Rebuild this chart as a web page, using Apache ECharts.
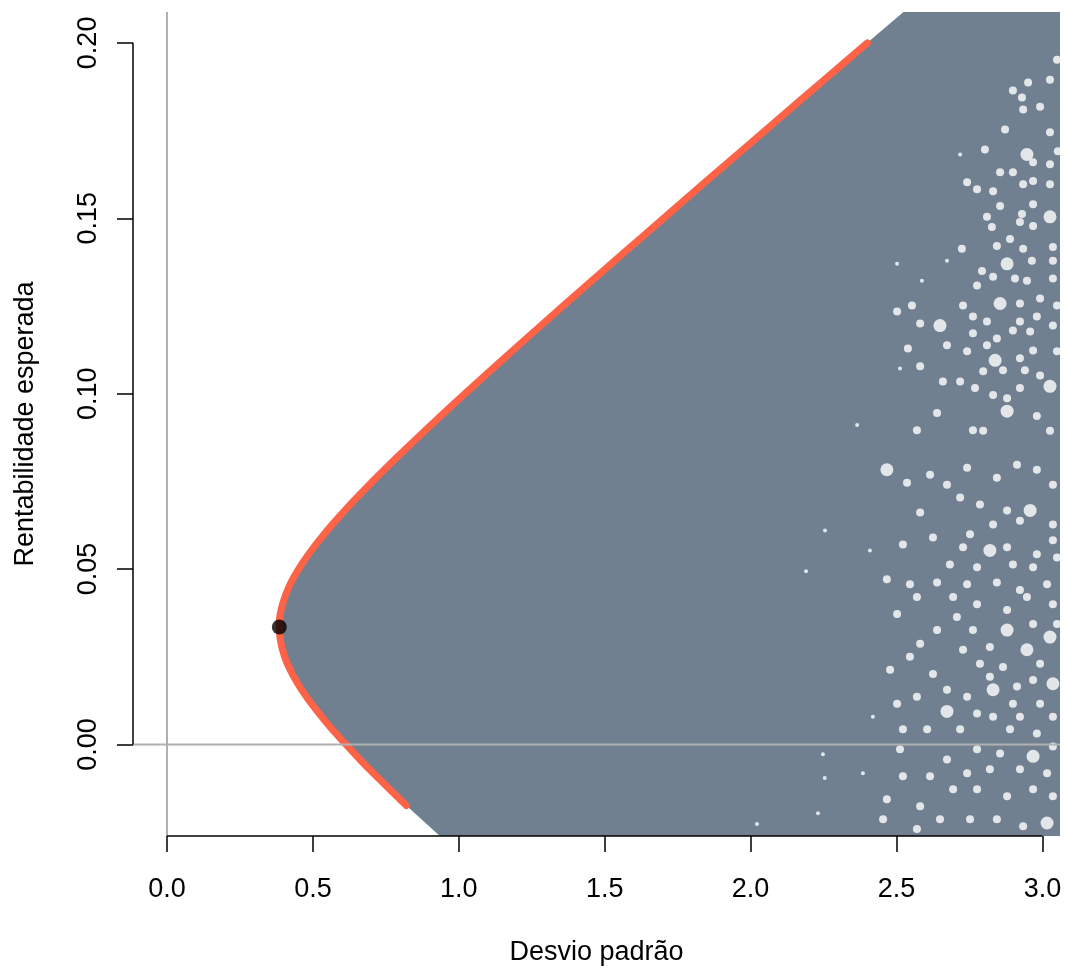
<!DOCTYPE html>
<html>
<head>
<meta charset="utf-8">
<script src="https://cdn.jsdelivr.net/npm/echarts@6/dist/echarts.min.js"></script>
<style>
html,body{margin:0;padding:0;background:#fff;width:1065px;height:971px;overflow:hidden;}
#c{position:absolute;left:0;top:0;width:1065px;height:971px;}
</style>
</head>
<body>
<div id="c"></div>
<script>
// ---- data ----
const xTicks = [0, 0.5, 1.0, 1.5, 2.0, 2.5, 3.0];
const yTicks = [0, 0.05, 0.10, 0.15, 0.20];
const xRange = [-0.1165, 3.0603];
const yRange = [-0.0261, 0.2088];

// efficient frontier (expected return mu, std dev sigma)
const frontierMu = [-0.0174, -0.015, -0.01, -0.005, 0, 0.005, 0.01, 0.015, 0.02, 0.025, 0.03, 0.035, 0.04, 0.045, 0.05, 0.055, 0.06, 0.065, 0.07, 0.08, 0.09, 0.10, 0.11, 0.12, 0.13, 0.14, 0.15, 0.16, 0.17, 0.18, 0.19, 0.20];
const frontierSigma = [0.820, 0.790, 0.729, 0.669, 0.613, 0.559, 0.510, 0.466, 0.430, 0.403, 0.388, 0.385, 0.396, 0.418, 0.451, 0.492, 0.539, 0.591, 0.646, 0.765, 0.891, 1.021, 1.154, 1.289, 1.426, 1.563, 1.702, 1.840, 1.980, 2.119, 2.260, 2.400];

// minimum-variance portfolio
const minVar = [0.385, 0.0335];

// edge of the simulated-portfolio cloud beyond the frontier ends
const cloudBottomEdge = [0.935, -0.0261];
const cloudTopEdge = [2.524, 0.2088];

// uncovered gaps in the cloud (sigma, mu)
const holesLarge = [[2.947,0.1682],[3.026,0.1504],[2.879,0.1370],[2.855,0.1257],[2.649,0.1194],[2.838,0.1095],[3.026,0.1021],[2.879,0.0950],[2.467,0.0783],[2.958,0.0667],[2.820,0.0553],[2.879,0.0326],[2.947,0.0270],[2.831,0.0156],[2.673,0.0094],[3.026,0.0306],[3.036,0.0173],[2.968,-0.0034],[3.016,-0.0224]];
const holesMedium = [
[3.050,0.1952],[2.951,0.1887],[2.899,0.1864],[2.930,0.1844],[3.026,0.1895],[2.992,0.1818],[3.026,0.1745],[2.934,0.1810],[2.872,0.1753],[2.968,0.1660],[3.026,0.1654],[3.053,0.1691],[2.742,0.1603],[2.776,0.1583],[2.831,0.1577],[2.934,0.1597],[2.968,0.1606],[3.026,0.1597],[2.899,0.1631],[2.803,0.1696],[2.855,0.1631],
[2.855,0.1535],[2.810,0.1504],[2.930,0.1512],[2.968,0.1540],[2.923,0.1489],[2.968,0.1478],[2.827,0.1475],[2.724,0.1413],[2.844,0.1421],[2.889,0.1441],[2.934,0.1413],[3.036,0.1418],[2.793,0.1350],[2.964,0.1379],[3.036,0.1379],[2.831,0.1333],[2.906,0.1328],[2.947,0.1322],[3.036,0.1328],[2.776,0.1308],[2.923,0.1257],[2.992,0.1271],[3.050,0.1251],[2.553,0.1251],[2.502,0.1234],[2.581,0.1200],[2.728,0.1251],[2.762,0.1220],[2.810,0.1206],[2.923,0.1206],[2.981,0.1220],[2.844,0.1157],[2.762,0.1172],[2.899,0.1180],[2.958,0.1177],[3.036,0.1194],[2.810,0.1138],[2.742,0.1121],[2.673,0.1138],[2.539,0.1129],[2.968,0.1123],[3.050,0.1121],[2.923,0.1101],[2.797,0.1064],[2.865,0.1067],[2.940,0.1067],[2.992,0.1052],[2.659,0.1035],[2.718,0.1035],[2.769,0.1016],[2.923,0.1016],[2.831,0.0996],[2.581,0.1078],[2.879,0.0987],
[2.981,0.0936],[3.026,0.0894],[2.762,0.0896],[2.797,0.0894],[2.639,0.0945],[2.570,0.0896],[2.536,0.0746],[2.742,0.0789],[2.844,0.0760],[2.913,0.0797],[2.981,0.0783],[3.036,0.0740],[2.673,0.0740],[2.615,0.0769],[2.718,0.0704],[2.786,0.0684],[2.581,0.0661],[2.879,0.0667],[3.036,0.0627],[2.625,0.0590],[2.752,0.0599],[2.831,0.0627],[2.923,0.0638],[2.522,0.0570],[2.728,0.0562],[2.879,0.0562],[2.981,0.0542],[3.036,0.0582],[2.683,0.0513],[2.776,0.0505],[2.899,0.0513],[2.968,0.0505],[3.050,0.0533],[2.467,0.0471],[2.546,0.0457],[2.639,0.0462],[2.742,0.0457],[2.844,0.0462],[2.923,0.0440],[3.016,0.0457],[2.502,0.0372],[2.570,0.0420],[2.694,0.0420],[2.776,0.0400],[2.879,0.0383],[2.947,0.0420],[3.036,0.0400],[2.707,0.0363],[2.968,0.0343],[3.050,0.0343],[2.639,0.0326],[2.762,0.0326],[2.581,0.0287],[2.728,0.0270],[2.820,0.0278],[2.546,0.0250],[2.786,0.0230],[2.865,0.0221],[2.992,0.0230],[2.478,0.0213],[2.625,0.0201],[2.820,0.0193],[2.913,0.0165],[2.968,0.0184],[2.673,0.0156],[2.742,0.0136],[2.570,0.0136],[2.502,0.0116],[2.899,0.0116],[2.992,0.0116],[2.776,0.0088],[2.831,0.0079],[2.923,0.0079],[3.036,0.0079],[2.522,0.0043],[2.605,0.0043],[2.718,0.0043],[2.889,0.0043],[2.981,0.0031],[2.776,-0.0014],[2.855,-0.0026],[3.036,-0.0006],[2.512,-0.0014],[2.673,-0.0043],[2.742,-0.0082],[2.820,-0.0071],[2.923,-0.0071],[3.016,-0.0082],[2.615,-0.0091],[2.522,-0.0091],[2.694,-0.0128],[2.776,-0.0128],[2.879,-0.0148],[2.968,-0.0128],[3.036,-0.0148],[2.467,-0.0156],[2.581,-0.0176],[2.649,-0.0213],[2.752,-0.0213],[2.844,-0.0213],[2.934,-0.0233],[2.454,-0.0213],[2.570,-0.0241]
];
const holesSmall = [[2.718,0.1682],[2.673,0.1379],[2.502,0.1370],[2.587,0.1322],[2.512,0.1072],[2.365,0.0911],[2.409,0.0553],[2.419,0.0079],[2.385,-0.0082],[2.248,-0.0028],[2.254,-0.0096],[2.022,-0.0227],[2.231,-0.0196],[2.255,0.0610],[2.190,0.0494]];

const xTitle = 'Desvio padrão';
const yTitle = 'Rentabilidade esperada';

// ---- build ----
const frontier = frontierMu.map((m, i) => [frontierSigma[i], m]);
const cloudPolygon = [cloudBottomEdge].concat(frontier, [cloudTopEdge, [xRange[1], yRange[1]], [xRange[1], yRange[0]]]);

const FONT = "'Liberation Sans', Arial, Helvetica, sans-serif";
const FS = 27;
const chart = echarts.init(document.getElementById('c'), null, {renderer: 'canvas', width: 1065, height: 971});

chart.setOption({
  animation: false,
  backgroundColor: '#ffffff',
  grid: {left: 133, right: 5, top: 12, bottom: 131, containLabel: false},
  xAxis: {
    type: 'value', min: xRange[0], max: xRange[1],
    name: xTitle, nameLocation: 'middle', nameGap: 103,
    nameTextStyle: {fontFamily: FONT, fontSize: FS, color: '#000'},
    axisLine: {show: false, onZero: false},
    splitLine: {show: false},
    axisTick: {show: true, customValues: xTicks, length: 16, lineStyle: {color: '#000', width: 1.5}},
    axisLabel: {show: true, customValues: xTicks, margin: 40, fontFamily: FONT, fontSize: FS, color: '#000',
      formatter: v => v.toFixed(1)}
  },
  yAxis: {
    type: 'value', min: yRange[0], max: yRange[1],
    name: yTitle, nameLocation: 'middle', nameGap: 94,
    nameTextStyle: {fontFamily: FONT, fontSize: FS, color: '#000'},
    axisLine: {show: false, onZero: false},
    splitLine: {show: false},
    axisTick: {show: true, customValues: yTicks, length: 16, lineStyle: {color: '#000', width: 1.5}},
    axisLabel: {show: true, customValues: yTicks, rotate: 90, margin: 31, fontFamily: FONT, fontSize: FS, color: '#000',
      formatter: v => v.toFixed(2)}
  },
  series: [
    {
      type: 'custom', silent: true, z: 1,
      data: [[1, 0.1]],
      renderItem: function (params, api) {
        const pts = cloudPolygon.map(p => api.coord(p));
        return {type: 'polygon', shape: {points: pts}, style: {fill: '#708090'}};
      }
    },
    {type: 'scatter', data: holesLarge, symbol: 'circle', symbolSize: 13, itemStyle: {color: '#ffffff'}, silent: true, z: 2},
    {type: 'scatter', data: holesMedium, symbol: 'circle', symbolSize: 8, itemStyle: {color: '#ffffff'}, silent: true, z: 2},
    {type: 'scatter', data: holesSmall, symbol: 'circle', symbolSize: 4, itemStyle: {color: '#ffffff'}, silent: true, z: 2},
    {
      type: 'line', data: frontier, smooth: 0.3, showSymbol: false, silent: true, z: 3,
      lineStyle: {color: '#FF6347', width: 7, cap: 'round', join: 'round'}
    },
    {type: 'line', data: [[0, yRange[0]], [0, yRange[1]]], showSymbol: false, silent: true, z: 4,
      lineStyle: {color: '#b0b0b0', width: 2}},
    {type: 'line', data: [[xRange[0], 0], [xRange[1], 0]], showSymbol: false, silent: true, z: 4,
      lineStyle: {color: '#b0b0b0', width: 2}},
    {type: 'scatter', data: [minVar], symbol: 'circle', symbolSize: 15, itemStyle: {color: '#000'}, silent: true, z: 5},
    {type: 'line', data: [[xTicks[0], yRange[0]], [xTicks[xTicks.length - 1], yRange[0]]], showSymbol: false, silent: true, clip: false, z: 6,
      lineStyle: {color: '#000', width: 1.5}},
    {type: 'line', data: [[xRange[0], yTicks[0]], [xRange[0], yTicks[yTicks.length - 1]]], showSymbol: false, silent: true, clip: false, z: 6,
      lineStyle: {color: '#000', width: 1.5}}
  ]
});
</script>
</body>
</html>
